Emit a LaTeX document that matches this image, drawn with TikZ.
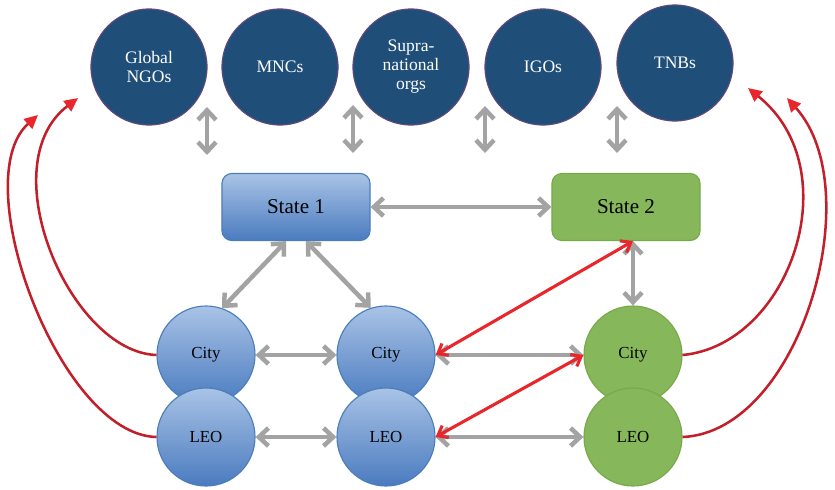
\documentclass[tikz,border=0pt]{standalone}
\usepackage{fontspec}
\setmainfont{Liberation Serif}
\usetikzlibrary{arrows.meta}
\definecolor{navy}{HTML}{1F4E79}
\definecolor{navyline}{HTML}{604A7B}
\definecolor{bluetop}{HTML}{A9C3E6}
\definecolor{bluebot}{HTML}{4A7BBF}
\definecolor{blueline}{HTML}{4A7EBB}
\definecolor{leaf}{HTML}{86B75B}
\definecolor{leafline}{HTML}{77A94B}
\definecolor{linkgray}{HTML}{A3A3A3}
\definecolor{alert}{HTML}{E8262B}
\definecolor{reachred}{HTML}{C21F2A}
\begin{document}
\begin{tikzpicture}[x=0.025cm,y=-0.025cm,
  org/.style={circle,draw=navyline,line width=0.8pt,fill=navy,text=white,minimum size=2.9cm,inner sep=0pt,align=center,font=\fontsize{12.5}{13.5}\selectfont},
  state/.style={rectangle,rounded corners=7pt,minimum width=3.7cm,minimum height=1.675cm,font=\fontsize{15}{17}\selectfont},
  place/.style={circle,minimum size=2.45cm,inner sep=0pt,font=\fontsize{12}{13}\selectfont},
  blueish/.style={draw=blueline,line width=0.8pt,top color=bluetop,bottom color=bluebot},
  greenish/.style={draw=leafline,line width=0.8pt,fill=leaf},
  link/.style={draw=linkgray,line width=3.2pt,>={Straight Barb[length=0.24cm,width=0.45cm]},<->},
  hot/.style={draw=alert,line width=2.2pt,>={Straight Barb[length=0.22cm,width=0.34cm]},<->},
  reach/.style={draw=reachred,line width=1.8pt,-{Triangle[length=0.34cm,width=0.32cm,color=alert]}}]
\useasboundingbox (0,0) rectangle (835,489);
\node[org] (ngo) at (149,67) {Global\\NGOs};
\node[org] (mnc) at (280,67) {MNCs};
\node[org] (supra) at (411,67) {Supra-\\national\\orgs};
\node[org] (igo) at (543,67) {IGOs};
\node[org] (tnb) at (675,63) {TNBs};
\node[state,blueish] (sa) at (296,207) {State 1};
\node[state,greenish] (sb) at (626,207) {State 2};
\node[place,blueish] (cityA) at (206,355) {City};
\node[place,blueish] (leoA) at (206,437) {LEO};
\node[place,blueish] (cityB) at (386,355) {City};
\node[place,blueish] (leoB) at (386,437) {LEO};
\node[place,greenish] (cityC) at (633,355) {City};
\node[place,greenish] (leoC) at (633,437) {LEO};
\coordinate (up1) at (207,107); \coordinate (dn1) at (207,155);
\coordinate (up2) at (353,105); \coordinate (dn2) at (353,153);
\coordinate (up3) at (485,106); \coordinate (dn3) at (485,153);
\coordinate (up4) at (617,106); \coordinate (dn4) at (617,153);
\draw[link] (up1)--(dn1);
\draw[link] (up2)--(dn2);
\draw[link] (up3)--(dn3);
\draw[link] (up4)--(dn4);
\draw[link] (sa)--(sb);
\draw[link] (sa.254)--(cityA.71);
\draw[link] (sa.286)--(cityB.108);
\draw[link] (cityA)--(cityB);
\draw[link] (leoA)--(leoB);
\draw[link] (cityB)--(cityC);
\draw[link] (leoB)--(leoC);
\draw[link] (sb.south -| cityC)--(cityC);
\draw[hot] (cityB.east)--(sb.south -| cityC);
\draw[hot] (leoB.east)--(cityC.west);
\coordinate (tipA) at (78,98);
\coordinate (tipB) at (38,115);
\coordinate (tipC) at (748,88);
\coordinate (tipD) at (787,98);
\draw[reach] (cityA.west) .. controls (70,352) and (-10,165) .. (tipA);
\draw[reach] (leoA.west) .. controls (60,435) and (-35,180) .. (tipB);
\draw[reach] (cityC.east) .. controls (790,345) and (850,170) .. (tipC);
\draw[reach] (leoC.east) .. controls (800,432) and (870,190) .. (tipD);
\end{tikzpicture}
\end{document}
